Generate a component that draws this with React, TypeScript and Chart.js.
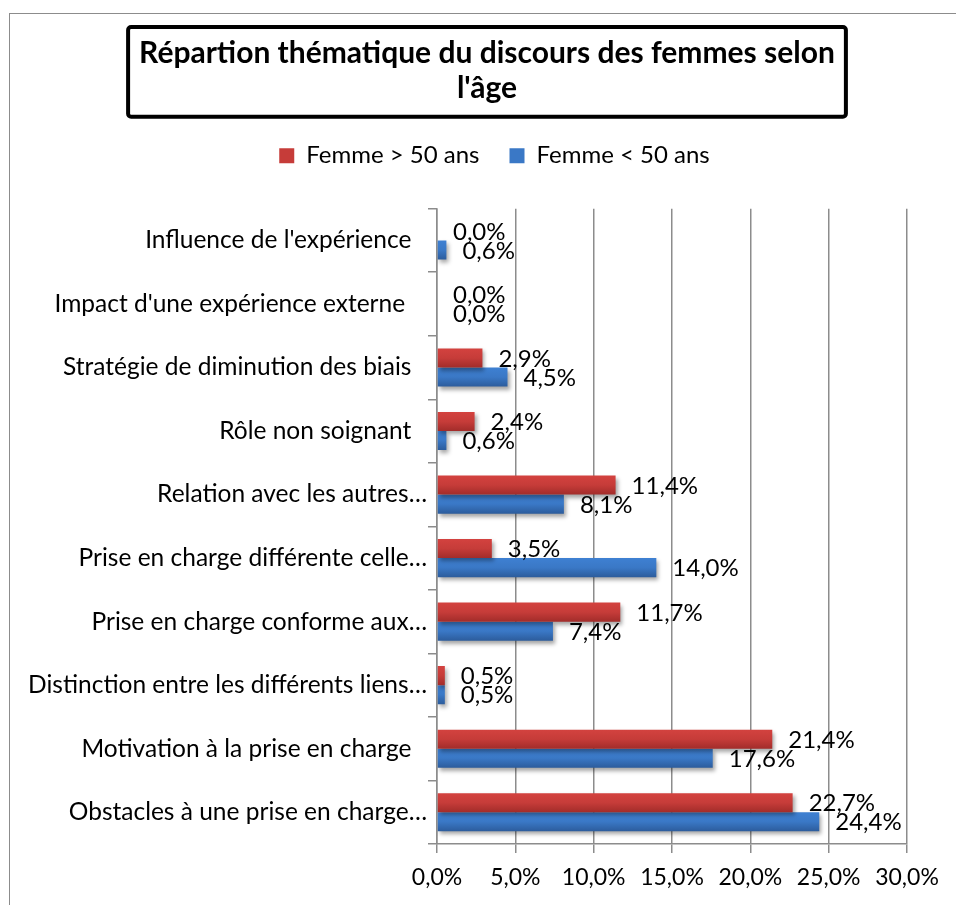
import React, { useEffect, useRef } from "react";
import { Chart, registerables } from "chart.js";

Chart.register(...registerables);

const categories = [
  "Influence de l'expérience",
  "Impact d'une expérience externe ",
  "Stratégie de diminution des biais",
  "Rôle non soignant",
  "Relation avec les autres…",
  "Prise en charge différente celle…",
  "Prise en charge conforme aux…",
  "Distinction entre les différents liens…",
  "Motivation à la prise en charge",
  "Obstacles à une prise en charge…",
];

const seriesNames = ["Femme > 50 ans", "Femme < 50 ans"];
const femmePlus50 = [0.0, 0.0, 2.9, 2.4, 11.4, 3.5, 11.7, 0.5, 21.4, 22.7];
const femmeMoins50 = [0.6, 0.0, 4.5, 0.6, 8.1, 14.0, 7.4, 0.5, 17.6, 24.4];

const titleLines = ["Répartion thématique du discours des femmes selon", "l'âge"];
const xMax = 30;
const xStep = 5;

const FONT = "Lato, 'Open Sans', sans-serif";
const TITLE_SIZE = 30;
const TITLE_LH = 1.17;
const TITLE_PAD_TOP = 35.5;

const colors = [
  { base: "#c63c39", top: "#d3423f", bottom: "#a22c2a" },
  { base: "#3a78c6", top: "#3e80d2", bottom: "#2c5c9c" },
];

const fmt = (v: number) => v.toFixed(1).replace(".", ",") + "%";

const gradientPlugin = {
  id: "barGradient",
  beforeDatasetDraw(chart: any, args: any) {
    const ctx = chart.ctx;
    const c = colors[args.index];
    args.meta.data.forEach((el: any) => {
      const h = el.height || 1;
      const g = ctx.createLinearGradient(0, el.y - h / 2, 0, el.y + h / 2);
      g.addColorStop(0, c.top);
      g.addColorStop(0.5, c.base);
      g.addColorStop(1, c.bottom);
      el.options.backgroundColor = g;
    });
    ctx.save();
    ctx.shadowColor = "rgba(0,0,0,0.35)";
    ctx.shadowBlur = 4;
    ctx.shadowOffsetX = 2;
    ctx.shadowOffsetY = 3;
  },
  afterDatasetDraw(chart: any) {
    chart.ctx.restore();
  },
};

const labelPlugin = {
  id: "valueLabels",
  afterDatasetsDraw(chart: any) {
    const ctx = chart.ctx;
    ctx.save();
    ctx.font = `24px ${FONT}`;
    ctx.fillStyle = "#000";
    ctx.textAlign = "left";
    ctx.textBaseline = "middle";
    chart.data.datasets.forEach((ds: any, di: number) => {
      const meta = chart.getDatasetMeta(di);
      meta.data.forEach((el: any, i: number) => {
        ctx.fillText(fmt(ds.data[i]), el.x + 16, el.y + 1);
      });
    });
    ctx.restore();
  },
};

const titleBoxPlugin = {
  id: "titleBox",
  afterDraw(chart: any) {
    const tb = chart.titleBlock;
    if (!tb) return;
    const ctx = chart.ctx;
    ctx.save();
    ctx.font = `bold ${TITLE_SIZE}px ${FONT}`;
    const w = Math.max(...titleLines.map((l) => ctx.measureText(l).width));
    const lh = TITLE_SIZE * TITLE_LH;
    const c1 = tb.top + TITLE_PAD_TOP + lh / 2;
    const c2 = c1 + lh;
    const cx = (tb.left + tb.right) / 2;
    const x0 = cx - w / 2 - 11;
    const x1 = cx + w / 2 + 11;
    const y0 = c1 - 26;
    const y1 = c2 + 28.5;
    ctx.lineWidth = 4;
    ctx.strokeStyle = "#000";
    ctx.beginPath();
    ctx.roundRect(x0, y0, x1 - x0, y1 - y0, 3);
    ctx.stroke();
    ctx.restore();
  },
};

const legendSpacePlugin = {
  id: "legendSpace",
  beforeInit(chart: any) {
    const legend = chart.legend;
    if (!legend) return;
    const fit = legend.fit;
    legend.fit = function () {
      fit.call(this);
      this.height += 31;
    };
  },
  afterLayout(chart: any) {
    // centre title and legend over the (wider) Excel chart area
    if (chart.titleBlock) chart.titleBlock.left += 67;
    if (chart.legend) chart.legend.left += 82;
  },
};

export default function App() {
  const canvasRef = useRef<HTMLCanvasElement | null>(null);

  useEffect(() => {
    if (!canvasRef.current) return;
    const chart = new Chart(canvasRef.current, {
      type: "bar",
      data: {
        labels: categories,
        datasets: [
          {
            label: seriesNames[0],
            data: femmePlus50,
            backgroundColor: () => colors[0].base,
            borderWidth: 0,
            barPercentage: 1,
            categoryPercentage: 0.6,
          },
          {
            label: seriesNames[1],
            data: femmeMoins50,
            backgroundColor: () => colors[1].base,
            borderWidth: 0,
            barPercentage: 1,
            categoryPercentage: 0.6,
          },
        ],
      },
      options: {
        indexAxis: "y",
        animation: false,
        responsive: false,
        maintainAspectRatio: false,
        layout: { padding: { left: 0, right: 49, top: 0, bottom: 0 } },
        plugins: {
          title: {
            display: true,
            text: titleLines,
            color: "#000",
            font: { family: FONT, size: TITLE_SIZE, weight: "bold", lineHeight: TITLE_LH },
            padding: { top: TITLE_PAD_TOP, bottom: 8 },
          },
          legend: {
            display: true,
            position: "top",
            labels: {
              color: "#000",
              font: { family: FONT, size: 24 },
              boxWidth: 15,
              boxHeight: 15,
              padding: 30,
              generateLabels: (ch: any) =>
                ch.data.datasets.map((ds: any, i: number) => ({
                  text: ds.label,
                  fillStyle: colors[i].base,
                  strokeStyle: colors[i].base,
                  lineWidth: 0,
                  hidden: false,
                  datasetIndex: i,
                  fontColor: "#000",
                })),
            },
          },
          tooltip: { enabled: false },
        },
        scales: {
          x: {
            type: "linear",
            min: 0,
            max: xMax,
            ticks: {
              stepSize: xStep,
              color: "#000",
              font: { family: FONT, size: 23 },
              padding: 11,
              callback: (v: any) => fmt(Number(v)),
            },
            grid: {
              color: "#8c8c8c",
              lineWidth: 1.5,
              drawTicks: true,
              tickLength: 9,
            },
            border: { display: true, color: "#8c8c8c", width: 1.5 },
            afterFit: (scale: any) => {
              scale.height = 61;
            },
          },
          y: {
            type: "category",
            ticks: {
              color: "#000",
              font: { family: FONT, size: 24.5 },
              padding: 1,
              autoSkip: false,
              callback: function (this: any, v: any) {
                const l = this.getLabelForValue(v) as string;
                return l.endsWith("…") ? l : l + "  \u2009";
              },
            },
            grid: {
              display: true,
              drawOnChartArea: false,
              drawTicks: true,
              tickLength: 9,
              color: "#8c8c8c",
              lineWidth: 1.5,
              offset: true,
            },
            border: { display: true, color: "#8c8c8c", width: 1.5 },
            afterFit: (scale: any) => {
              scale.width = 437;
            },
          },
        },
      },
      plugins: [legendSpacePlugin, gradientPlugin, labelPlugin, titleBoxPlugin],
    } as any);
    return () => chart.destroy();
  }, []);

  return (
    <div style={{ position: "absolute", left: 0, top: 0, width: 956, height: 905, background: "#fff", overflow: "hidden" }}>
      <div
        style={{
          position: "absolute",
          left: 9,
          top: 13,
          width: 1000,
          height: 1000,
          borderLeft: "1.5px solid #8c8c8c",
          borderTop: "1.5px solid #8c8c8c",
        }}
      />
      <canvas
        ref={canvasRef}
        width={956}
        height={905}
        style={{ position: "absolute", left: 0, top: 0, width: 956, height: 905 }}
      />
    </div>
  );
}
